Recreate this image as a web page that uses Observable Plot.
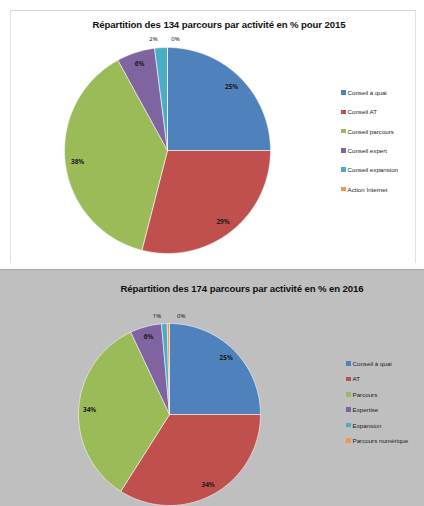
<!DOCTYPE html>
<html>
<head>
<meta charset="utf-8">
<script src="https://cdn.jsdelivr.net/npm/d3@7"></script>
<script src="https://cdn.jsdelivr.net/npm/@observablehq/plot@0.6"></script>
<style>
  html, body { margin: 0; padding: 0; background: #ffffff; }
  body { width: 424px; height: 506px; position: relative; overflow: hidden; font-family: "Liberation Sans", Arial, sans-serif; }
  .panel { position: absolute; left: 0; width: 424px; }
  #p1 { top: 0; height: 264px; background: #ffffff; }
  #p1 .frame { position: absolute; left: 10px; top: 10px; width: 404px; height: 252px; border-top: 1px solid #d4d4d4; border-left: 1px solid #e2e2e2; border-right: 1px solid #e2e2e2; }
  #p2 { top: 269px; height: 237px; background: #bfbfbf; border-top: 1px solid #a9a9a9; }
  .title { position: absolute; font-weight: bold; font-size: 9.6px; color: #111; white-space: nowrap; transform: translateX(-50%); letter-spacing: -0.1px; }
  .chart { position: absolute; left: 0; top: 0; }
  .legend { position: absolute; font-size: 6.2px; color: #222; }
  .legend .item { position: absolute; left: 0; white-space: nowrap; display: flex; align-items: center; }
  .legend .sw { width: 4.5px; height: 4.5px; margin-right: 2px; display: inline-block; }
</style>
</head>
<body>
<script>
// ---- data ----
const colors = ["#4F81BD", "#C0504D", "#9BBB59", "#8064A2", "#4BACC6", "#F79646"];

const title2015 = "Répartition des 134 parcours par activité en % pour 2015";
const names2015 = ["Conseil à quai", "Conseil AT", "Conseil parcours", "Conseil expert", "Conseil expansion", "Action Internet"];
const values2015 = [25, 29, 38, 6, 2, 0];

const title2016 = "Répartition des 174 parcours par activité en % en 2016";
const names2016 = ["Conseil à quai", "AT", "Parcours", "Expertise", "Expansion", "Parcours numérique"];
const values2016 = [25, 34, 34, 5.6, 1, 0.4];

// ---- helpers ----
function slices(names, values) {
  const pie = d3.pie().sort(null).value(d => d.value).startAngle(0).endAngle(2 * Math.PI);
  const arcs = pie(names.map((name, i) => ({name, value: values[i]})));
  const pts = [];
  const labels = [];
  arcs.forEach((a, i) => {
    const name = a.data.name;
    const steps = Math.max(2, Math.ceil((a.endAngle - a.startAngle) / 0.02));
    pts.push({name, x: 0, y: 0});
    for (let k = 0; k <= steps; k++) {
      const t = a.startAngle + (a.endAngle - a.startAngle) * k / steps;
      pts.push({name, x: Math.sin(t), y: Math.cos(t)});
    }
    pts.push({name, x: 0, y: 0});
    const mid = (a.startAngle + a.endAngle) / 2;
    const small = a.data.value < 3;
    const rr = small ? 1.08 : 0.88;
    labels.push({name, x: Math.sin(mid) * rr, y: Math.cos(mid) * rr, text: Math.round(a.data.value) + "%", small, idx: i});
  });
  return {pts, labels};
}

function pieChart(names, values, cx, cy, r, h, dxL, dxR) {
  const {pts, labels} = slices(names, values);
  const smalls = labels.filter(d => d.small);
  return Plot.plot({
    width: 424, height: h, margin: 0,
    style: {background: "transparent", overflow: "visible"},
    x: {domain: [-1, 1], range: [cx - r, cx + r], axis: null},
    y: {domain: [-1, 1], range: [cy + r, cy - r], axis: null},
    color: {domain: names, range: colors},
    marks: [
      Plot.line(pts, {x: "x", y: "y", z: "name", fill: "name", stroke: "#f4f4f4", strokeWidth: 0.8, strokeOpacity: 0.8}),
      Plot.text(labels.filter(d => !d.small), {x: "x", y: "y", text: "text", fontSize: 6.5, fill: "#1a1a1a", fontWeight: "bold"}),
      Plot.text(smalls.filter((d, i) => i % 2 === 0), {x: "x", y: "y", text: "text", fontSize: 6, fill: "#1a1a1a", dx: dxL}),
      Plot.text(smalls.filter((d, i) => i % 2 === 1), {x: "x", y: "y", text: "text", fontSize: 6, fill: "#1a1a1a", dx: dxR})
    ]
  });
}

function legend(names, spacing) {
  const div = document.createElement("div");
  div.className = "legend";
  names.forEach((n, i) => {
    const it = document.createElement("div");
    it.className = "item";
    it.style.top = (i * spacing) + "px";
    const sw = document.createElement("span");
    sw.className = "sw";
    sw.style.background = colors[i];
    it.appendChild(sw);
    it.appendChild(document.createTextNode(n));
    div.appendChild(it);
  });
  return div;
}

function panel(id, title, titleX, titleY, names, values, cx, cy, r, h, legX, legY, spacing, dxL, dxR) {
  const p = document.createElement("div");
  p.className = "panel";
  p.id = id;
  document.body.appendChild(p);
  if (id === "p1") {
    const f = document.createElement("div");
    f.className = "frame";
    p.appendChild(f);
  }
  const chart = pieChart(names, values, cx, cy, r, h, dxL, dxR);
  chart.classList.add("chart");
  p.appendChild(chart);
  const t = document.createElement("div");
  t.className = "title";
  t.style.left = titleX + "px";
  t.style.top = titleY + "px";
  t.textContent = title;
  p.appendChild(t);
  const lg = legend(names, spacing);
  lg.style.left = legX + "px";
  lg.style.top = legY + "px";
  p.appendChild(lg);
}

panel("p1", title2015, 219, 19, names2015, values2015, 167, 150, 103, 264, 341, 89, 19.3, -7, 8);
panel("p2", title2016, 242, 13, names2016, values2016, 169, 144, 91, 237, 346, 90, 15.4, -7, 13);
</script>
</body>
</html>
